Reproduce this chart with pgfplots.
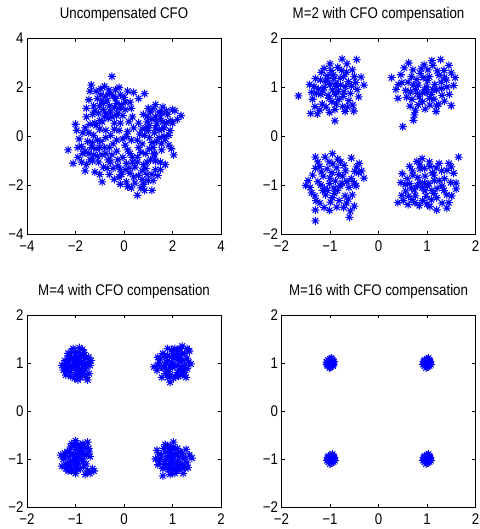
\documentclass[border=0pt]{standalone}
\usepackage{fontspec}
\setmainfont{Liberation Sans}[FakeStretch=0.86]
\usepackage{pgfplots}
\pgfplotsset{compat=1.18}

% MATLAB-style '*' marker (+ and x overlaid)
\pgfdeclareplotmark{mlstar}{%
  \pgfpathmoveto{\pgfqpoint{-\pgfplotmarksize}{0pt}}\pgfpathlineto{\pgfqpoint{\pgfplotmarksize}{0pt}}%
  \pgfpathmoveto{\pgfqpoint{0pt}{-\pgfplotmarksize}}\pgfpathlineto{\pgfqpoint{0pt}{\pgfplotmarksize}}%
  \pgfpathmoveto{\pgfqpoint{-.707\pgfplotmarksize}{-.707\pgfplotmarksize}}\pgfpathlineto{\pgfqpoint{.707\pgfplotmarksize}{.707\pgfplotmarksize}}%
  \pgfpathmoveto{\pgfqpoint{-.707\pgfplotmarksize}{.707\pgfplotmarksize}}\pgfpathlineto{\pgfqpoint{.707\pgfplotmarksize}{-.707\pgfplotmarksize}}%
  \pgfusepathqstroke}

\pgfplotsset{
  mlab/.style={scale only axis, width=194bp, anchor=south west,
    axis line style={line width=0.8pt}, major tick length=3.5bp,
    every tick/.style={black, line width=0.6pt},
    tick align=inside,
    tick label style={font=\fontsize{15.5}{17}\selectfont},
    title style={font=\fontsize{15.5}{17}\selectfont, at={(0.5,1)}, anchor=base, yshift=14bp},
    xticklabel style={yshift=-3bp},
  },
  two/.style={xmin=-2, xmax=2, ymin=-2, ymax=2,
    xtick={-2,-1,0,1,2}, ytick={-2,-1,0,1,2},
    xticklabels={−2,−1,0,1,2}, yticklabels={−2,−1,0,1,2}},
  pts/.style={only marks, mark=mlstar, mark size=4bp, blue, line width=1.05pt},
}

\begin{document}
\begin{tikzpicture}
\useasboundingbox (0,0) rectangle (480bp,529bp);

% ---- Uncompensated CFO
\begin{axis}[mlab, at={(27bp,294.5bp)}, height=196bp,
  title={Uncompensated CFO},
  xmin=-4, xmax=4, ymin=-4, ymax=4,
  xtick={-4,-2,0,2,4}, ytick={-4,-2,0,2,4},
  xticklabels={−4,−2,0,2,4}, yticklabels={−4,−2,0,2,4}]
\addplot[pts] coordinates {
(-0.5,2.45) (-1.35,2.1) (-1.4,1.85) (-0.8,2.05) (-0.62,1.9) (-0.2,2.0) (-0.95,1.7)
(-0.45,1.65) (-0.7,1.45) (-1.1,1.55) (-1.25,1.25) (-0.3,1.35) (-0.85,1.1) (-0.55,1.0)
(-1.05,0.95) (-0.2,1.15) (-0.65,0.75) (-1.3,0.9) (-0.4,0.55) (-0.9,0.6) (-1.15,0.45)
(0.0,1.6) (0.15,1.85) (0.4,1.8) (0.85,1.75) (0.25,1.4) (-0.05,0.85) (-1.45,1.5)
(-0.35,1.9) (-0.1,1.3)
(2.35,0.85) (2.1,1.05) (2.0,0.55) (1.6,1.2) (1.3,1.3) (1.0,1.15) (1.8,0.9) (1.5,0.75)
(1.15,0.7) (0.8,0.9) (0.6,0.55) (1.9,0.25) (1.55,0.3) (1.25,0.15) (0.9,0.35) (1.7,-0.1)
(1.35,-0.2) (1.05,-0.05) (0.65,0.1) (1.85,-0.35) (1.55,-0.55) (1.2,-0.45) (2.05,-0.75)
(0.4,0.35) (1.45,1.0) (1.75,0.55) (0.95,0.6) (0.35,0.8) (2.0,1.1) (1.1,1.0)
(0.55,-2.4) (1.15,-2.2) (0.8,-1.95) (0.45,-1.9) (0.1,-1.85) (0.6,-1.6) (0.95,-1.55)
(1.3,-1.35) (0.25,-1.5) (-0.1,-1.55) (0.45,-1.25) (0.8,-1.15) (1.1,-0.95) (1.5,-1.05)
(1.7,-1.15) (0.1,-1.1) (-0.25,-1.2) (0.55,-0.85) (0.25,-0.7) (0.9,-0.7) (-0.4,-1.75)
(-0.15,-1.95) (1.4,-1.6) (0.7,-2.1) (1.0,-1.8) (0.3,-2.1) (-0.05,-0.85) (1.25,-0.7)
(0.6,-0.45) (0.05,-0.35)
(-2.3,-0.55) (-2.0,0.5) (-2.1,-1.1) (-1.9,-0.85) (-1.75,-0.4) (-1.7,0.15) (-1.5,-0.2)
(-1.45,-0.7) (-1.55,-1.15) (-1.2,-1.45) (-1.3,-1.0) (-1.15,-0.5) (-1.25,0.05) (-0.95,-0.2)
(-0.9,-0.75) (-0.85,-1.25) (-0.9,-1.85) (-0.6,-1.55) (-0.65,-0.95) (-0.6,-0.45) (-0.55,0.05)
(-0.3,-0.6) (-0.3,-0.15) (-0.05,-0.1) (-1.0,0.3) (-1.6,0.35) (-1.85,-0.1) (-0.45,-1.3)
(-1.05,-1.05) (-1.35,-0.45) (-0.2,0.25) (0.15,0.2) (0.3,-0.15) (-0.75,0.25) (-1.55,0.8)
(-0.85,1.35) (-0.4,1.2) (-1.0,1.25) (-0.6,1.75) (0.05,1.1) (1.35,0.55) (1.65,0.0)
(1.0,0.25) (1.25,-0.75) (0.75,-1.4) (0.35,-1.05) (-0.5,-0.75) (-1.1,-0.8) (-1.3,-0.25)
(-0.8,-0.45) (-1.6,-0.6) (0.2,-1.3) (0.9,-1.3) (1.6,0.6) (-0.15,0.55) (0.2,0.6)
(0.55,-0.15) (-0.25,-0.95) (-0.75,0.95) (1.45,0.25) (-1.4,0.5) (0.6,1.55) (-0.3,0.85)
(0.75,-0.3) (0.15,-0.55)
(-0.75,1.65) (-1.15,1.85) (-0.35,1.55) (-0.9,1.45) (-1.2,1.05) (-0.5,0.8) (-0.25,0.95)
(-0.8,0.8) (-1.0,0.65) (0.05,1.4) (0.3,1.15) (-0.6,1.25) (-1.55,1.15) (-0.95,1.95)
(-0.15,1.7)
(1.2,1.15) (1.55,0.95) (1.9,0.65) (1.3,0.8) (0.95,0.8) (1.65,0.35) (1.3,0.35) (1.05,0.45)
(0.75,0.3) (1.45,-0.05) (1.85,0.05) (1.15,-0.25) (1.55,-0.3) (0.85,0.05) (1.75,1.05)
(2.2,0.7) (1.95,-0.5)
(0.4,-1.65) (0.75,-1.75) (1.15,-1.55) (0.55,-1.05) (0.95,-1.05) (1.3,-1.0) (0.05,-1.35)
(0.35,-0.85) (0.7,-0.65) (1.05,-0.5) (0.15,-2.05) (0.85,-2.2) (1.2,-1.8) (-0.2,-1.65)
(1.5,-1.35)
(-1.7,-0.7) (-1.4,-0.95) (-1.75,-1.05) (-1.25,-0.75) (-1.0,-0.45) (-0.75,-0.7) (-0.7,-1.3)
(-1.0,-1.55) (-1.9,-0.45) (-1.45,0.15) (-1.1,-0.15) (-0.75,-0.05) (-0.45,-0.3) (-0.4,0.3)
(-1.2,0.55) (-0.55,-1.05) (-0.15,-1.35) (0.1,0.0) (-1.95,0.25) (-1.6,-1.4)
};
\end{axis}

% ---- M=2
\begin{axis}[mlab, two, at={(281.5bp,294.5bp)}, height=196bp,
  title={M=2 with CFO compensation}]
\addplot[pts] coordinates {
(-1.65,0.83) (-1.4,0.47) (-0.9,0.32) (-0.45,1.57) (-0.75,1.58) (-0.3,1.05) (-1.0,1.48)
(-0.65,1.48) (-0.5,1.22) (-1.3,1.18) (-1.18,1.31) (-1.36,0.76) (-1.24,0.97) (-1.09,1.12)
(-0.93,1.26) (-0.79,1.19) (-0.86,1.02) (-1.04,0.84) (-0.71,0.91) (-0.56,1.03) (-1.16,0.66)
(-0.96,0.71) (-0.74,0.61) (-0.61,0.73) (-1.21,0.54) (-1.01,0.49) (-0.53,0.64) (-0.44,0.96)
(-0.41,0.81) (-1.42,1.06) (-0.84,1.41) (-1.12,1.39) (-0.66,1.31) (-0.89,0.86) (-1.31,0.61)
(-0.69,0.51) (-1.0,1.06) (-0.62,1.12) (-1.19,0.86) (-0.81,0.76) (-1.06,1.24) (-0.36,1.21)
(-1.26,0.46) (-0.51,0.52)
(-0.95,0.95) (-0.88,1.08) (-1.12,1.0) (-0.78,1.05) (-1.02,0.78) (-0.72,1.22) (-1.28,0.88)
(-0.92,1.18) (-1.15,0.93) (-0.83,0.92) (-0.68,1.02) (-1.08,0.6) (-0.58,0.88) (-0.47,1.1)
(-1.33,1.02) (-0.98,1.35) (-0.76,1.35) (-1.2,1.15) (-0.87,0.66) (-0.64,0.6) (-1.05,1.15)
(-0.9,0.55) (-1.38,0.9) (-0.54,1.36) (-0.73,0.82)
(0.27,1.2) (0.5,0.2) (0.62,1.5) (1.5,0.63) (0.4,0.78) (0.72,0.33) (1.1,1.55) (1.28,1.57)
(1.45,1.45) (1.5,1.3) (1.36,1.21) (0.46,1.26) (0.71,1.36) (0.86,1.29) (1.02,1.36) (1.21,1.34)
(0.61,1.11) (0.79,1.16) (1.01,1.14) (1.16,1.06) (1.41,1.01) (0.56,0.94) (0.76,0.96)
(0.91,0.89) (1.09,0.86) (1.31,0.84) (1.46,0.86) (0.69,0.76) (0.91,0.71) (1.06,0.64)
(1.24,0.66) (0.76,0.54) (0.96,0.56) (1.19,0.51) (0.74,0.44) (0.66,0.91) (0.99,1.01)
(0.84,0.81) (1.29,1.11) (1.55,1.04) (0.41,1.06) (1.14,0.76) (0.94,1.46) (0.36,0.96)
(0.95,0.95) (1.05,1.22) (0.82,1.05) (1.2,0.95) (0.92,1.2) (1.12,1.45) (0.68,1.22)
(1.35,1.35) (1.4,1.15) (0.58,0.8) (0.82,0.65) (1.05,0.78) (1.2,0.62) (1.36,0.72)
(0.72,1.05) (1.0,0.9) (1.25,1.25) (0.53,1.4) (0.65,0.62) (1.12,0.96) (0.88,1.38)
(1.58,1.2) (0.48,1.1) (1.3,0.98) (0.8,0.88)
(-1.3,-1.72) (-1.3,-1.5) (-0.6,-1.65) (-0.5,-1.42) (-1.5,-1.0) (-0.3,-0.85) (-1.3,-0.42)
(-0.4,-0.55) (-1.1,-0.42) (-0.95,-0.35) (-0.84,-0.46) (-0.56,-0.44) (-1.21,-0.61)
(-0.94,-0.56) (-0.71,-0.59) (-0.49,-0.71) (-1.36,-0.79) (-1.14,-0.81) (-0.96,-0.74)
(-0.74,-0.81) (-0.56,-0.86) (-1.41,-1.04) (-1.19,-0.99) (-1.01,-0.96) (-0.79,-1.01)
(-0.61,-1.04) (-1.31,-1.21) (-1.09,-1.19) (-0.91,-1.16) (-0.69,-1.21) (-0.54,-1.19)
(-1.21,-1.36) (-0.99,-1.34) (-0.81,-1.31) (-1.01,-1.51) (-0.86,-1.44) (-1.29,-1.31)
(-0.66,-1.36) (-1.06,-0.66) (-0.86,-0.64) (-1.11,-1.06) (-0.89,-0.91) (-0.46,-1.01)
(-0.41,-0.74)
(-1.0,-0.85) (-0.85,-1.1) (-1.15,-1.1) (-0.75,-0.95) (-1.25,-0.92) (-0.68,-0.7)
(-1.18,-0.72) (-0.95,-1.25) (-0.62,-1.28) (-1.38,-1.15) (-0.5,-0.95) (-0.78,-0.52)
(-1.02,-0.52) (-0.92,-1.05) (-1.25,-0.52) (-0.45,-0.62) (-0.65,-0.92) (-1.45,-0.9)
(-1.12,-1.45) (-0.72,-1.45) (-0.35,-0.7) (-1.05,-1.1) (-0.82,-0.78) (-1.3,-0.65)
(-0.58,-1.52)
(1.65,-0.42) (0.4,-1.35) (1.2,-1.5) (1.6,-1.07) (0.9,-0.45) (0.79,-0.51) (1.06,-0.61)
(1.45,-0.55) (1.41,-0.69) (0.64,-0.61) (0.86,-0.66) (1.19,-0.64) (0.49,-0.76) (0.71,-0.79)
(0.96,-0.81) (1.14,-0.79) (1.36,-0.86) (0.46,-0.94) (0.64,-0.96) (0.86,-0.94) (1.04,-0.96)
(1.31,-1.01) (1.49,-0.94) (0.56,-1.11) (0.74,-1.09) (0.96,-1.11) (1.14,-1.16) (1.41,-1.19)
(0.51,-1.31) (0.69,-1.29) (0.91,-1.31) (1.09,-1.29) (1.31,-1.36) (0.61,-1.39) (0.84,-1.41)
(1.06,-1.43) (1.41,-1.46) (0.76,-1.21) (1.01,-1.01) (1.21,-1.06) (0.81,-0.84) (1.51,-1.21)
(0.59,-0.86) (1.11,-0.74)
(0.95,-0.95) (1.1,-1.1) (0.8,-1.0) (1.25,-0.9) (0.7,-0.7) (0.95,-0.65) (1.3,-0.7)
(1.55,-0.75) (0.55,-0.98) (1.2,-1.25) (0.98,-1.22) (0.62,-1.22) (1.45,-1.35) (1.5,-0.62)
(0.85,-0.58) (1.05,-0.52) (1.35,-1.1) (0.75,-1.35) (1.15,-0.9) (0.9,-1.05) (1.6,-0.95)
(0.48,-1.2) (1.25,-0.55) (0.68,-1.05) (1.0,-1.38)
};
\end{axis}

% ---- M=4
\begin{axis}[mlab, two, at={(27bp,22bp)}, height=192bp,
  title={M=4 with CFO compensation}]
\addplot[pts] coordinates {
(-1.0,1.0) (-0.9,1.05) (-1.1,0.95) (-0.95,0.9) (-1.05,1.1) (-0.85,0.95) (-1.15,1.05)
(-0.9,1.15) (-1.0,1.2) (-1.2,0.9) (-1.25,0.85) (-1.1,0.8) (-0.95,0.78) (-0.8,0.85)
(-0.75,1.0) (-0.7,0.95) (-0.8,1.1) (-1.05,1.3) (-0.92,1.32) (-1.15,1.2) (-1.22,1.05)
(-1.2,0.75) (-1.0,0.72) (-0.85,0.75) (-0.72,0.78) (-0.75,0.65) (-0.78,0.7) (-0.68,1.05)
(-0.82,1.22) (-1.12,1.15) (-0.98,0.85) (-1.08,0.88) (-0.88,0.88) (-0.93,1.1) (-1.03,1.02)
(-0.8,1.0) (-1.18,0.98) (-1.28,0.95) (-0.86,1.28) (-0.95,0.65)
(-0.97,0.97) (-1.07,0.93) (-0.87,1.02) (-0.92,0.82) (-1.12,1.08) (-0.98,1.12) (-0.83,1.15)
(-1.17,0.85) (-0.77,0.92) (-1.02,0.68) (-0.9,0.7) (-1.23,0.95) (-1.08,1.25) (-0.95,1.22)
(-0.73,1.12) (-1.1,0.72) (-0.85,0.82) (-1.0,0.92) (-0.97,1.05) (-1.15,1.15)
(1.0,1.0) (0.9,1.05) (1.1,0.95) (0.95,0.9) (1.05,1.1) (0.85,0.95) (1.15,1.05) (0.9,1.15)
(1.0,1.2) (0.8,0.9) (0.7,0.95) (0.62,0.92) (0.75,1.08) (0.8,1.2) (1.1,1.25) (1.2,1.35)
(1.15,1.3) (1.25,1.2) (1.3,1.1) (1.38,0.98) (1.3,0.88) (1.25,0.8) (1.2,0.75) (1.1,0.8)
(0.95,0.75) (0.85,0.78) (0.78,0.7) (0.95,0.6) (1.05,0.72) (0.68,0.85) (1.18,0.92)
(1.08,1.15) (0.98,1.28) (0.72,1.02) (0.88,0.85) (1.22,1.05) (1.35,1.25) (1.15,0.85)
(0.9,1.3) (1.28,0.7)
(0.97,0.97) (1.07,0.93) (0.87,1.02) (0.92,0.82) (1.12,1.08) (0.98,1.12) (0.83,1.15)
(1.22,0.85) (0.77,0.92) (1.02,0.68) (0.9,0.7) (1.33,1.02) (1.2,1.2) (1.05,1.3) (0.7,1.12)
(1.12,0.72) (1.25,0.95) (1.0,0.92) (1.15,1.15) (1.3,1.3)
(-1.0,-1.0) (-0.9,-0.95) (-1.1,-1.05) (-0.95,-1.1) (-1.05,-0.9) (-0.85,-1.05) (-1.15,-0.95)
(-0.9,-0.85) (-1.0,-0.8) (-1.2,-1.1) (-1.25,-1.0) (-1.22,-0.88) (-1.1,-0.75) (-0.95,-0.7)
(-0.8,-0.75) (-0.75,-0.65) (-0.85,-0.68) (-0.72,-0.85) (-0.7,-0.95) (-0.78,-1.1)
(-0.9,-1.2) (-1.05,-1.2) (-1.15,-1.25) (-1.0,-1.3) (-1.2,-1.2) (-0.75,-1.25) (-0.65,-1.2)
(-0.7,-1.3) (-0.8,-1.32) (-0.62,-1.25) (-1.3,-0.92) (-1.12,-0.85) (-0.98,-1.18)
(-0.88,-0.78) (-1.08,-0.68) (-0.82,-0.92) (-1.0,-0.62) (-1.28,-1.15) (-0.95,-0.9)
(-1.05,-1.05)
(-0.97,-0.97) (-1.07,-0.93) (-0.87,-1.02) (-0.92,-0.82) (-1.12,-1.08) (-0.98,-1.12)
(-0.83,-1.15) (-1.17,-0.85) (-0.77,-0.92) (-1.02,-0.72) (-0.9,-0.72) (-1.23,-0.95)
(-1.08,-1.25) (-0.95,-1.22) (-0.73,-0.78) (-1.1,-1.15) (-0.85,-0.85) (-1.0,-0.92)
(-0.97,-1.05) (-1.15,-1.15)
(1.0,-1.0) (0.9,-0.95) (1.1,-1.05) (0.95,-1.1) (1.05,-0.9) (0.85,-1.05) (1.15,-0.95)
(0.9,-0.85) (1.0,-0.8) (1.2,-1.1) (1.25,-1.0) (1.2,-0.88) (1.1,-0.78) (0.95,-0.72)
(1.02,-0.65) (0.82,-0.78) (0.72,-0.9) (0.65,-1.0) (0.7,-1.12) (0.8,-1.2) (0.92,-1.22)
(1.05,-1.2) (1.15,-1.22) (1.25,-1.18) (1.3,-1.08) (1.35,-0.92) (1.4,-0.98) (1.28,-0.8)
(0.8,-1.35) (1.05,-1.3) (0.95,-1.32) (1.22,-1.3) (0.75,-1.02) (0.88,-1.12) (1.12,-0.85)
(0.98,-0.92) (1.08,-1.12) (0.68,-0.82) (1.32,-1.18) (0.85,-0.7)
(0.97,-0.97) (1.07,-0.93) (0.87,-1.02) (0.92,-0.82) (1.12,-1.08) (0.98,-1.12) (0.83,-1.15)
(1.17,-0.85) (0.77,-0.92) (1.02,-0.75) (0.9,-0.75) (1.23,-0.95) (1.08,-1.25) (0.95,-1.22)
(0.73,-1.05) (1.1,-1.15) (0.85,-0.85) (1.0,-0.92) (0.97,-1.05) (1.15,-1.15)
};
\end{axis}

% ---- M=16
\begin{axis}[mlab, two, at={(281.5bp,22bp)}, height=192bp,
  title={M=16 with CFO compensation}]
\addplot[pts] coordinates {
(-0.98,1.0) (-0.95,1.04) (-1.03,1.03) (-0.97,0.95) (-1.02,0.96) (-0.93,1.0) (-1.05,0.99)
(-1.0,1.08) (-0.99,0.92) (-0.95,1.07) (-1.04,1.06) (-0.94,0.94) (-1.05,0.94) (-0.92,1.03)
(-1.07,1.02) (-0.97,1.1) (-1.01,0.9) (-0.93,0.97) (-1.07,0.97) (-1.0,1.02)
(1.0,1.0) (1.04,1.03) (0.96,1.02) (1.02,0.95) (0.97,0.96) (1.06,1.0) (0.94,0.99)
(1.0,1.08) (1.01,0.92) (1.05,1.06) (0.95,1.06) (1.05,0.94) (0.95,0.94) (1.07,1.03)
(0.93,1.03) (1.03,1.1) (0.98,0.9) (1.08,0.97) (0.92,0.97) (1.0,1.03)
(-0.98,-1.0) (-0.94,-0.97) (-1.02,-0.98) (-0.96,-1.05) (-1.01,-1.04) (-0.92,-1.0)
(-1.04,-1.01) (-0.98,-0.92) (-0.97,-1.08) (-0.93,-0.94) (-1.03,-0.94) (-0.93,-1.06)
(-1.03,-1.06) (-0.91,-0.97) (-1.05,-0.97) (-0.95,-0.9) (-1.0,-1.1) (-0.9,-1.03)
(-1.06,-1.03) (-0.98,-0.97)
(1.0,-1.0) (1.04,-0.97) (0.96,-0.98) (1.02,-1.05) (0.97,-1.04) (1.06,-1.0) (0.94,-1.01)
(1.0,-0.92) (1.01,-1.08) (1.05,-0.94) (0.95,-0.94) (1.05,-1.06) (0.95,-1.06) (1.07,-0.97)
(0.93,-0.97) (1.03,-0.9) (0.98,-1.1) (1.08,-1.03) (0.92,-1.03) (1.0,-0.97)
};
\end{axis}
\end{tikzpicture}
\end{document}
